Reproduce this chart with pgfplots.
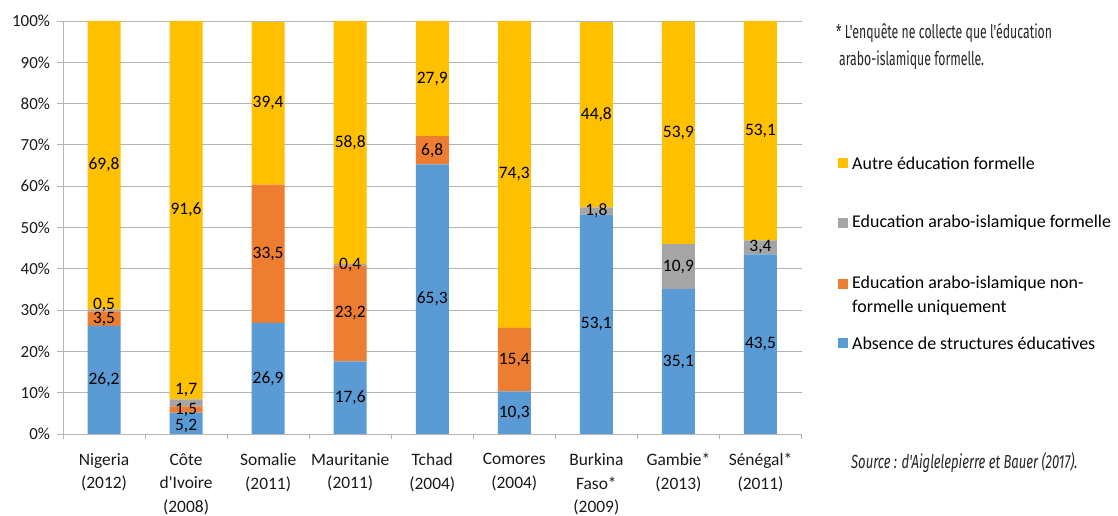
\documentclass[border=0pt]{standalone}
\usepackage{fontspec}
\setmainfont{Carlito}
\newfontfamily\condfont[FakeStretch=0.65]{Fira Sans}
\newfontfamily\condifont[FakeStretch=0.69]{Fira Sans Italic}
\usepackage{pgfplots}
\pgfplotsset{compat=1.18}
\definecolor{cblue}{HTML}{5B9BD5}
\definecolor{corange}{HTML}{ED7D31}
\definecolor{cgray}{HTML}{A5A5A5}
\definecolor{cyellow}{HTML}{FFC000}
\definecolor{gridc}{HTML}{B4B4B4}
\begin{document}
\begin{tikzpicture}
\useasboundingbox (0,0) rectangle (1118bp,516bp);
\pgfplotsset{
  base/.style={
    at={(63bp,82bp)}, anchor=south west, scale only axis,
    width=738.5bp, height=413bp,
    xmin=-0.5, xmax=8.5, ymin=0, ymax=100,
  }
}
\begin{axis}[base,
  ybar stacked, bar width=33bp,
  axis x line*=bottom, axis y line*=left,
  axis line style={gridc, line width=0.8bp},
  ymajorgrids, grid style={gridc, line width=0.8bp},
  ytick={0,10,...,100},
  yticklabel={\pgfmathprintnumber{\tick}\%},
  /pgf/number format/assume math mode=true,
  xtick={-0.5,0.5,...,8.5},
  xticklabels={},
  tick align=outside,
  major tick length=5.5bp,
  tick style={gridc, line width=0.8bp},
  y tick label style={font=\fontsize{17}{20}\selectfont, text=black!90, xshift=-4bp},
]
\addplot[fill=cblue, draw=none] coordinates {(0,26.2) (1,5.2) (2,26.9) (3,17.6) (4,65.3) (5,10.3) (6,53.1) (7,35.1) (8,43.5)};
\addplot[fill=corange, draw=none] coordinates {(0,3.5) (1,1.5) (2,33.5) (3,23.2) (4,6.8) (5,15.4) (6,0) (7,0) (8,0)};
\addplot[fill=cgray, draw=none] coordinates {(0,0.5) (1,1.7) (2,0) (3,0.4) (4,0) (5,0) (6,1.8) (7,10.9) (8,3.4)};
\addplot[fill=cyellow, draw=none] coordinates {(0,69.8) (1,91.6) (2,39.4) (3,58.8) (4,27.9) (5,74.3) (6,44.8) (7,53.9) (8,53.1)};
\end{axis}
\begin{axis}[base,
  axis y line=none, axis x line*=bottom,
  x axis line style={draw=none},
  ytick=\empty,
  xtick={0,...,8},
  major tick length=0pt,
  xticklabels={Nigeria\\(2012), Côte\\d\textquotesingle Ivoire\\(2008), Somalie\\(2011), Mauritanie\\(2011), Tchad\\(2004), Comores\\(2004), Burkina\\Faso*\\(2009), Gambie*\\(2013), Sénégal*\\(2011)},
  x tick label style={align=center, font=\fontsize{17.5}{23.5}\selectfont, text=black!90, yshift=-16bp},
  every node near coord/.append style={anchor=center, font=\fontsize{17.5}{20}\selectfont, text=black}]
\addplot[draw=none, mark=none, nodes near coords, point meta=explicit symbolic] table[meta=l] {
x y l
0 13.1 26,2
0 27.9 3,5
0 31.3 0,5
0 65.1 69,8
1 2.0 5,2
1 5.7 1,5
1 10.6 1,7
1 54.2 91,6
2 13.45 26,9
2 43.65 33,5
2 80.1 39,4
3 8.8 17,6
3 29.2 23,2
3 41.0 0,4
3 70.6 58,8
4 32.65 65,3
4 68.7 6,8
4 86.05 27,9
5 5.15 10,3
5 18.0 15,4
5 62.85 74,3
6 26.55 53,1
6 54.0 1,8
6 77.3 44,8
7 17.55 35,1
7 40.55 10,9
7 73.0 53,9
8 21.75 43,5
8 45.2 3,4
8 73.45 53,1
};
\end{axis}
% legend
\fill[cyellow] (838bp,348bp) rectangle (848bp,358bp);
\node[anchor=west, inner sep=0pt, font=\fontsize{18}{21}\selectfont] at (852bp,353bp) {Autre éducation formelle};
\fill[cgray] (838bp,288bp) rectangle (848bp,298bp);
\node[anchor=west, inner sep=0pt, font=\fontsize{18}{21}\selectfont] at (852bp,293bp) {Education arabo-islamique formelle};
\fill[corange] (838bp,227bp) rectangle (848bp,237bp);
\node[anchor=west, inner sep=0pt, font=\fontsize{18}{21}\selectfont] at (852bp,232bp) {Education arabo-islamique non-};
\node[anchor=west, inner sep=0pt, font=\fontsize{18}{21}\selectfont] at (852bp,208bp) {formelle uniquement};
\fill[cblue] (838bp,168bp) rectangle (848bp,178bp);
\node[anchor=west, inner sep=0pt, font=\fontsize{18}{21}\selectfont] at (852bp,173bp) {Absence de structures éducatives};
% note
\node[anchor=west, inner sep=0pt, font=\condfont\fontsize{19}{22}\selectfont, text=black!85] at (836bp,483bp) {* L'enquête ne collecte que l'éducation};
\node[anchor=west, inner sep=0pt, font=\condfont\fontsize{19}{22}\selectfont, text=black!85] at (839bp,456bp) {arabo-islamique formelle.};
\node[anchor=west, inner sep=0pt, font=\condifont\fontsize{19}{22}\selectfont, text=black!85] at (851bp,53bp) {Source : d'Aiglelepierre et Bauer (2017).};
\end{tikzpicture}
\end{document}
